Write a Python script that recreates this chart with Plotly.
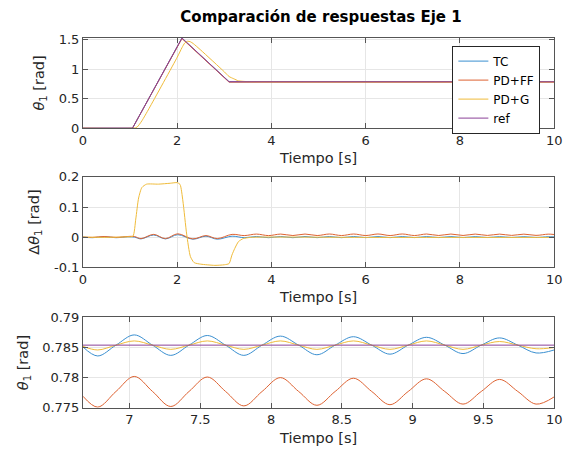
import plotly.graph_objects as go

# --- subplot 1: angular position ---
t_pos = [0.0, 1.05, 2.1, 3.1, 10.0]
ref_pos = [0.0, 0.0, 1.525, 0.7854, 0.7854]
tc_pos = [0.0, 0.0, 1.52, 0.785, 0.7853]
pdff_pos = [0.0, 0.0, 1.515, 0.778, 0.7777]

t_pos_pdg = [0.0, 1.08, 1.15, 1.25, 1.4, 2.0, 2.1, 2.16, 2.22, 2.28, 2.34, 2.5, 3.0, 3.1, 3.2, 3.3, 3.45, 3.6, 10.0]
pdg_pos = [0.0, 0.0, 0.02, 0.125, 0.331, 1.2, 1.36, 1.44, 1.47, 1.46, 1.43, 1.319, 0.952, 0.873, 0.835, 0.8, 0.789, 0.786, 0.7852]

# --- subplot 2: tracking error ---
t_err = [0.0, 0.2, 0.45, 0.7, 0.95, 1.09, 1.23, 1.5, 1.75, 2.01, 2.33, 2.61, 2.85,
         3.164, 3.422, 3.68, 3.938, 4.196, 4.454, 4.712, 4.97, 5.228, 5.486, 5.744,
         6.002, 6.26, 6.518, 6.776, 7.034, 7.292, 7.55, 7.808, 8.066, 8.324, 8.582,
         8.84, 9.098, 9.356, 9.614, 9.872, 10.0]
tc_err = [0.0, -0.002, 0.001, -0.002, 0.001, 0.0, -0.006, 0.007, -0.006, 0.008, -0.007, 0.003, -0.007,
          0.003, -0.002, 0.002, -0.002, 0.002, -0.002, 0.002, -0.0019, 0.0019, -0.0019, 0.0019,
          -0.0018, 0.0018, -0.0018, 0.0018, -0.0017, 0.0017, -0.0016, 0.0017, -0.0016, 0.0016, -0.0015,
          0.0015, -0.0013, 0.0013, -0.0012, 0.0013, 0.0008]
pdff_err = [0.0, -0.001, 0.002, -0.001, 0.002, 0.002, -0.005, 0.009, -0.005, 0.011, -0.006, 0.005, -0.005,
            0.009, 0.005, 0.010, 0.005, 0.010, 0.0052, 0.0101, 0.0052, 0.0102, 0.0052, 0.0102,
            0.0052, 0.0103, 0.0052, 0.0103, 0.0052, 0.0102, 0.0053, 0.0101, 0.0054, 0.0100, 0.0055,
            0.0099, 0.0056, 0.0098, 0.0057, 0.0098, 0.0086]

t_err_pdg = [0.0, 0.45, 0.95, 1.06, 1.12, 1.18, 1.25, 1.35, 1.6, 1.85, 2.0, 2.06, 2.12, 2.2, 2.28,
             2.36, 2.5, 2.8, 3.0, 3.1, 3.16, 3.22, 3.3, 3.4, 3.55, 3.8, 4.5, 6.0, 8.0, 10.0]
pdg_err = [0.0, -0.001, 0.001, 0.003, 0.06, 0.13, 0.165, 0.176, 0.176, 0.179, 0.181, 0.175, 0.12, 0.01,
           -0.065, -0.085, -0.09, -0.094, -0.092, -0.088, -0.06, -0.038, -0.015, -0.005, -0.001,
           0.0, 0.0, -0.001, -0.001, -0.001]

# --- subplot 3: zoom on steady state ---
t_zoom = [6.672, 6.776, 6.905, 7.034, 7.163, 7.292, 7.421, 7.55, 7.679, 7.808, 7.937, 8.066, 8.195,
          8.324, 8.453, 8.582, 8.711, 8.84, 8.969, 9.098, 9.227, 9.356, 9.485, 9.614, 9.743, 9.872, 10.0]
tc_zoom = [0.7851, 0.7836, 0.7854, 0.7871, 0.7854, 0.7837, 0.7854, 0.7870, 0.7854, 0.7837, 0.7854,
           0.7869, 0.7854, 0.7838, 0.7854, 0.7868, 0.7854, 0.7839, 0.7854, 0.7867, 0.7854, 0.7840,
           0.7854, 0.7866, 0.7854, 0.7841, 0.7846]
pdff_zoom = [0.7769, 0.7751, 0.7777, 0.7802, 0.7777, 0.7752, 0.7777, 0.7801, 0.7777, 0.7753, 0.7777,
             0.7800, 0.7777, 0.7754, 0.7777, 0.7799, 0.7777, 0.7755, 0.7777, 0.7798, 0.7777, 0.7756,
             0.7777, 0.7797, 0.7777, 0.7756, 0.7768]
pdg_zoom = [0.7852, 0.7846, 0.7854, 0.7861, 0.7854, 0.7847, 0.7854, 0.7861, 0.7854, 0.7847, 0.7854,
            0.7861, 0.7854, 0.7847, 0.7854, 0.7861, 0.7854, 0.7847, 0.7854, 0.7861, 0.7854, 0.7847,
            0.7854, 0.7860, 0.7854, 0.7848, 0.7850]
t_ref_zoom = [6.672, 10.0]
ref_zoom = [0.7854, 0.7854]

names = ["TC", "PD+FF", "PD+G", "ref"]
colors = ["#3a8fd0", "#dd6232", "#efbb3a", "#8a4198"]

W, H = 571, 457
FONT = "DejaVu Sans"
AX = "#555555"

fig = go.Figure()


def line(x, y, i, ax, legend=False, shape="spline", smooth=1.0):
    fig.add_trace(go.Scatter(
        x=x, y=y, mode="lines", name=names[i], showlegend=legend,
        line=dict(color=colors[i], width=1, shape=shape, smoothing=smooth),
        xaxis="x" + ax, yaxis="y" + ax,
    ))


line(t_pos, tc_pos, 0, "", True, "linear")
line(t_pos, pdff_pos, 1, "", True, "linear")
line(t_pos_pdg, pdg_pos, 2, "", True, smooth=0.6)
line(t_pos, ref_pos, 3, "", True, "linear")

line(t_err, tc_err, 0, "2")
line(t_err, pdff_err, 1, "2")
line(t_err_pdg, pdg_err, 2, "2", smooth=0.6)

line(t_zoom, tc_zoom, 0, "3")
line(t_zoom, pdff_zoom, 1, "3")
line(t_zoom, pdg_zoom, 2, "3")
line(t_ref_zoom, ref_zoom, 3, "3", shape="linear")


def px_x(a, b):
    return [a / W, b / W]


def px_y(top, bottom):
    return [(H - bottom) / H, (H - top) / H]


common = dict(showline=True, mirror="ticks", linecolor=AX, linewidth=1, ticks="inside",
              ticklen=5, tickcolor=AX, showgrid=True, gridcolor="#e6e6e6", gridwidth=1,
              zeroline=False, tickfont=dict(family=FONT, size=13, color="#262626"))
xtitle = dict(text="Tiempo [s]", font=dict(family=FONT, size=14.5, color="#262626"), standoff=6)
ytfont = dict(family=FONT, size=14.5, color="#262626")

fig.update_layout(
    width=W, height=H,
    margin=dict(l=0, r=0, t=0, b=0),
    paper_bgcolor="white", plot_bgcolor="white",
    font=dict(family=FONT, color="#262626"),
    title=dict(text="<b>Comparación de respuestas Eje 1</b>", x=321 / W, xanchor="center",
               y=1 - 17 / H, yanchor="middle", font=dict(family=FONT, size=15, color="black")),
    xaxis=dict(domain=px_x(80.7, 562), range=[0, 10], tickvals=[0, 2, 4, 6, 8, 10],
               title=xtitle, anchor="y", **common),
    yaxis=dict(domain=px_y(31.7, 125.3), range=[0, 1.53], tickvals=[0, 0.5, 1, 1.5],
               ticktext=["0", "0.5", "1", "1.5"], anchor="x",
               title=dict(text="<i>θ</i><sub>1</sub> [rad]", font=ytfont, standoff=10),
               **common),
    xaxis2=dict(domain=px_x(80.7, 562), range=[0, 10], tickvals=[0, 2, 4, 6, 8, 10],
                title=xtitle, anchor="y2", **common),
    yaxis2=dict(domain=px_y(175.7, 269), range=[-0.1, 0.2], tickvals=[-0.1, 0, 0.1, 0.2],
                ticktext=["-0.1", "0", "0.1", "0.2"], anchor="x2",
                title=dict(text="Δ<i>θ</i><sub>1</sub> [rad]", font=ytfont, standoff=10),
                **common),
    xaxis3=dict(domain=px_x(80.7, 562), range=[6.672, 10], tickvals=[7, 7.5, 8, 8.5, 9, 9.5, 10],
                ticktext=["7", "7.5", "8", "8.5", "9", "9.5", "10"], title=xtitle, anchor="y3", **common),
    yaxis3=dict(domain=px_y(321, 414.3), range=[0.775, 0.79], tickvals=[0.775, 0.78, 0.785, 0.79],
                ticktext=["0.775", "0.78", "0.785", "0.79"], anchor="x3",
                title=dict(text="<i>θ</i><sub>1</sub> [rad]", font=ytfont, standoff=10),
                **common),
    legend=dict(x=458 / W, y=1 - 85.4 / H, xanchor="left", yanchor="middle", bgcolor="white",
                bordercolor="#262626", borderwidth=1, font=dict(family=FONT, size=12, color="black"),
                tracegroupgap=0),
    showlegend=True,
)

fig.write_html("out.html", config={"displayModeBar": False},
               post_script="document.body.style.margin = '0px';")
